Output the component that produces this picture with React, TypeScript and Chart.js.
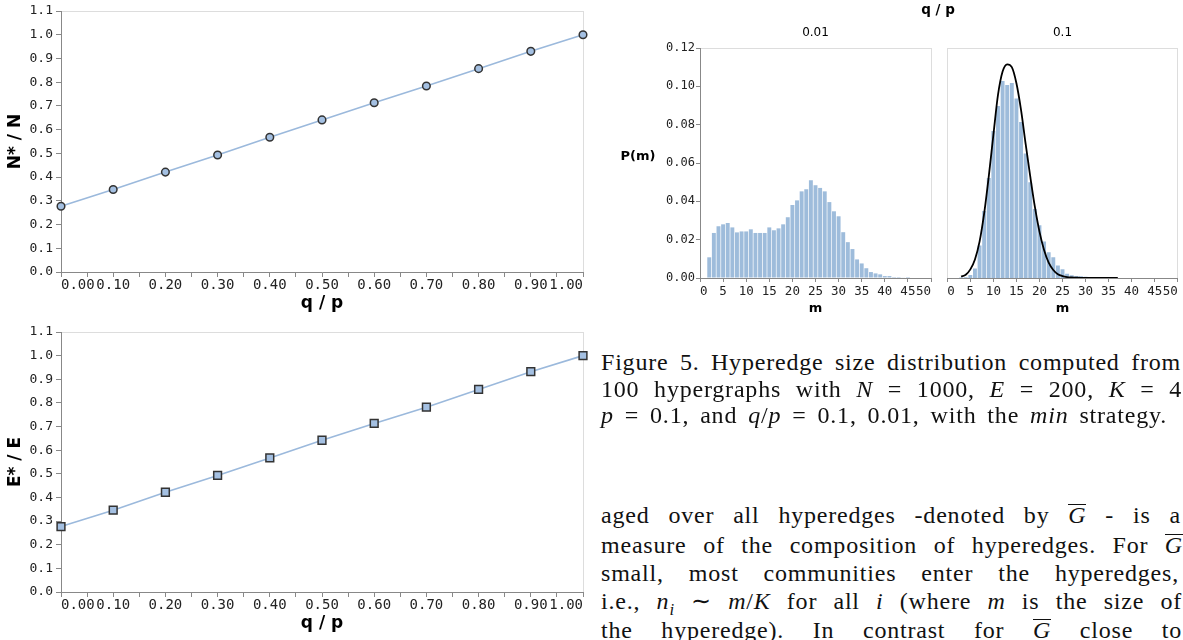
import React, { useEffect, useRef } from 'react';
import { Chart, registerables } from 'chart.js';

Chart.register(...registerables);

// ---------- data ----------
const qOverP = [0, 0.1, 0.2, 0.3, 0.4, 0.5, 0.6, 0.7, 0.8, 0.9, 1.0];
const nRatio = [0.277, 0.348, 0.421, 0.493, 0.568, 0.641, 0.713, 0.784, 0.857, 0.930, 1.0];
const eRatio = [0.277, 0.346, 0.422, 0.493, 0.567, 0.642, 0.713, 0.782, 0.857, 0.932, 1.0];

// q/p = 0.01 histogram
const mLow = [2, 3, 4, 5, 6, 7, 8, 9, 10, 11, 12, 13, 14, 15, 16, 17, 18, 19, 20, 21, 22, 23, 24, 25, 26, 27, 28, 29, 30, 31, 32, 33, 34, 35, 36, 37, 38, 39, 40, 41, 42, 43, 44, 45];
const pLow = [0.0108, 0.0235, 0.0270, 0.0280, 0.0287, 0.0264, 0.0238, 0.0243, 0.0243, 0.0254, 0.0235, 0.0235, 0.0235, 0.0264, 0.0249, 0.0259, 0.0280, 0.0317, 0.0381, 0.0405, 0.0452, 0.0463, 0.0510, 0.0484, 0.0470, 0.0452, 0.0396, 0.0348, 0.0322, 0.0239, 0.0187, 0.0151, 0.0097, 0.0076, 0.0051, 0.0031, 0.0024, 0.0019, 0.0010, 0.0010, 0.0005, 0.0005, 0.0002, 0.0005];

// q/p = 0.1 histogram
const mHigh = [3, 4, 5, 6, 7, 8, 9, 10, 11, 12, 13, 14, 15, 16, 17, 18, 19, 20, 21, 22, 23, 24, 25, 26, 27, 28, 29, 30, 31];
const pHigh = [0.0002, 0.0004, 0.0016, 0.0050, 0.0169, 0.0350, 0.0522, 0.0767, 0.0897, 0.1028, 0.1007, 0.1017, 0.0937, 0.0814, 0.0650, 0.0500, 0.0360, 0.0275, 0.0190, 0.0135, 0.0108, 0.0065, 0.0046, 0.0022, 0.0015, 0.0010, 0.0009, 0.0006, 0.0005];

// theoretical curve for q/p = 0.1
const mCurve = [3, 4, 5, 6, 7, 8, 9, 10, 11, 12, 13, 14, 15, 16, 17, 18, 19, 20, 21, 22, 23, 24, 25, 26, 27, 28, 29, 30, 31, 32, 33, 34, 35, 36, 37];
const pCurve = [0.0007, 0.0017, 0.0045, 0.0097, 0.0190, 0.0337, 0.0530, 0.0746, 0.0955, 0.1077, 0.1115, 0.1100, 0.1016, 0.0877, 0.0700, 0.0530, 0.0372, 0.0242, 0.0146, 0.0080, 0.0042, 0.0020, 0.0010, 0.0005, 0.0003, 0.0002, 0.0001, 0.0001, 0.0001, 0.0, 0.0, 0.0, 0.0, 0.0, 0.0];

const yTicksRatio = [0, 0.1, 0.2, 0.3, 0.4, 0.5, 0.6, 0.7, 0.8, 0.9, 1.0, 1.1];
const yTicksP = [0, 0.02, 0.04, 0.06, 0.08, 0.10, 0.12];
const xTicksM = [0, 5, 10, 15, 20, 25, 30, 35, 40, 45, 50];

// ---------- styles ----------
const BLUE_LINE = '#9bb9dc';
const BLUE_FILL = '#a4c0e2';
const BAR = '#9ebcdb';
const AXIS = '#888888';
const FRAME = '#dddddd';
const MONO = 'DejaVu Sans Mono';
const SANS = 'DejaVu Sans';

const framePlugin = {
  id: 'frame',
  beforeDraw(chart: any) {
    const { ctx, chartArea: a } = chart;
    ctx.save();
    ctx.strokeStyle = FRAME;
    ctx.lineWidth = 1;
    ctx.strokeRect(Math.round(a.left) + 0.5, Math.round(a.top) + 0.5, Math.round(a.right - a.left), Math.round(a.bottom - a.top));
    ctx.restore();
  },
};

function ratioConfig(values: number[], yTitle: string, pointStyle: string, radius: number) {
  return {
    type: 'line',
    data: {
      datasets: [
        {
          data: qOverP.map((x, i) => ({ x, y: values[i] })),
          borderColor: BLUE_LINE,
          borderWidth: 1.6,
          backgroundColor: BLUE_FILL,
          pointBackgroundColor: BLUE_FILL,
          pointBorderColor: '#333333',
          pointBorderWidth: 1.5,
          pointRadius: radius,
          pointStyle,
          tension: 0,
          clip: false,
        },
      ],
    },
    options: {
      animation: false,
      responsive: false,
      devicePixelRatio: 1,
      layout: { padding: { top: 11, right: 17, bottom: 0, left: 0 } },
      plugins: { legend: { display: false }, tooltip: { enabled: false } },
      scales: {
        x: {
          type: 'linear',
          min: 0,
          max: 1,
          offset: false,
          ticks: {
            stepSize: 0.05,
            autoSkip: false,
            maxRotation: 0,
            align: 'inner',
            padding: 0,
            color: '#222',
            font: { family: MONO, size: 14 },
            callback: (v: number) => {
              const k = Math.round(v * 100);
              return k % 10 === 0 ? (k / 100).toFixed(2) : '';
            },
          },
          grid: { drawOnChartArea: false, drawTicks: true, tickLength: 5, color: AXIS },
          border: { color: AXIS, width: 1 },
          title: {
            display: true,
            text: 'q / p',
            color: '#000',
            font: { family: SANS, size: 17, weight: 'bold' },
            padding: { top: 0, bottom: 6 },
          },
          afterFit: (s: any) => {
            s.height = 48;
          },
        },
        y: {
          type: 'linear',
          min: 0,
          max: 1.1,
          afterBuildTicks: (s: any) => {
            s.ticks = yTicksRatio.map((v) => ({ value: v }));
          },
          ticks: {
            padding: 3,
            color: '#222',
            font: { family: MONO, size: 13 },
            callback: (v: number) => v.toFixed(1),
          },
          grid: { drawOnChartArea: false, drawTicks: true, tickLength: 5, color: AXIS },
          border: { color: AXIS, width: 1 },
          title: {
            display: true,
            text: yTitle,
            color: '#000',
            font: { family: SANS, size: 17, weight: 'bold' },
            padding: { top: 5, bottom: 0 },
          },
          afterFit: (s: any) => {
            s.width = 61;
          },
        },
      },
    },
    plugins: [framePlugin],
  };
}

function histConfig(ms: number[], ps: number[], curveM: number[] | null, curveP: number[] | null, showY: boolean, padLeft: number, padRight: number) {
  const datasets: any[] = [];
  if (curveM && curveP) {
    datasets.push({
      type: 'line',
      data: curveM.map((x, i) => ({ x, y: curveP[i] })),
      borderColor: '#000000',
      borderWidth: 1.8,
      pointRadius: 0,
      cubicInterpolationMode: 'monotone',
      fill: false,
      order: 0,
    });
  }
  datasets.push({
    type: 'bar',
    data: ms.map((x, i) => ({ x, y: ps[i] })),
    backgroundColor: BAR,
    borderWidth: 0,
    barPercentage: 0.85,
    categoryPercentage: 1,
    order: 1,
  });
  return {
    type: 'bar',
    data: { datasets },
    options: {
      animation: false,
      responsive: false,
      devicePixelRatio: 1,
      layout: { padding: { top: 48, right: padRight, bottom: 0, left: padLeft } },
      plugins: { legend: { display: false }, tooltip: { enabled: false } },
      scales: {
        x: {
          type: 'linear',
          min: 0,
          max: 50,
          offset: false,
          afterBuildTicks: (s: any) => {
            s.ticks = xTicksM.map((v) => ({ value: v }));
          },
          ticks: {
            autoSkip: false,
            maxRotation: 0,
            align: 'inner',
            padding: 2,
            color: '#222',
            font: { family: MONO, size: 12.5 },
            callback: (v: number) => String(v),
          },
          grid: { drawOnChartArea: false, drawTicks: true, tickLength: 4, color: AXIS, offset: false },
          border: { color: AXIS, width: 1 },
          title: {
            display: true,
            text: 'm',
            color: '#000',
            font: { family: SANS, size: 13, weight: 'bold' },
            padding: { top: 0, bottom: 4 },
          },
          afterFit: (s: any) => {
            s.height = 42;
          },
        },
        y: {
          type: 'linear',
          display: showY,
          min: 0,
          max: 0.12,
          afterBuildTicks: (s: any) => {
            s.ticks = yTicksP.map((v) => ({ value: v }));
          },
          ticks: {
            padding: 1,
            color: '#222',
            font: { family: MONO, size: 12 },
            callback: (v: number) => v.toFixed(2),
          },
          grid: { drawOnChartArea: false, drawTicks: true, tickLength: 4, color: AXIS },
          border: { color: AXIS, width: 1 },
          afterFit: (s: any) => {
            s.width = showY ? 100 : 0;
          },
        },
      },
    },
    plugins: [framePlugin],
  };
}

function ChartCanvas({ config, left, top, width, height }: any) {
  const ref = useRef<HTMLCanvasElement | null>(null);
  useEffect(() => {
    const chart = new Chart(ref.current as HTMLCanvasElement, config() as any);
    return () => chart.destroy();
  }, []);
  return (
    <canvas
      ref={ref}
      width={width}
      height={height}
      style={{ position: 'absolute', left, top, width, height }}
    />
  );
}

function Label({ x, y, children, bold, size }: any) {
  return (
    <div
      style={{
        position: 'absolute',
        left: x,
        top: y,
        transform: 'translate(-50%, -50%)',
        whiteSpace: 'nowrap',
        lineHeight: 1,
        fontFamily: SANS,
        fontSize: size,
        fontWeight: bold ? 'bold' : 'normal',
        color: '#000',
      }}
    >
      {children}
    </div>
  );
}

const TEXT_FS = 24;
function TextLine({ baseline, width, children }: any) {
  return (
    <div
      style={{
        position: 'absolute',
        left: 601,
        top: baseline - 0.8375 * TEXT_FS,
        width,
        fontFamily: 'Liberation Serif',
        fontSize: TEXT_FS,
        lineHeight: TEXT_FS + 'px',
        height: TEXT_FS,
        textAlign: 'justify',
        textAlignLast: 'justify',
        letterSpacing: '0.8px',
        color: '#111',
      }}
    >
      {children}
    </div>
  );
}

const Gbar = () => (
  <span
    style={{
      display: 'inline-block',
      lineHeight: '0.86em',
      borderTop: '1.3px solid #111',
    }}
  >
    <i>G</i>
  </span>
);

export default function App() {
  return (
    <div
      style={{
        position: 'absolute',
        left: 0,
        top: 0,
        width: 1183,
        height: 640,
        overflow: 'hidden',
        background: '#fff',
      }}
    >
      <ChartCanvas left={0} top={0} width={600} height={320} config={() => ratioConfig(nRatio, 'N* / N', 'circle', 3.8)} />
      <ChartCanvas left={0} top={321} width={600} height={319} config={() => ratioConfig(eRatio, 'E* / E', 'rect', 5.5)} />
      <ChartCanvas left={600} top={0} width={340} height={320} config={() => histConfig(mLow, pLow, null, null, true, 0, 9)} />
      <ChartCanvas left={940} top={0} width={243} height={320} config={() => histConfig(mHigh, pHigh, mCurve, pCurve, false, 7.3, 5.3)} />

      <Label x={938} y={10} bold size={13.5}>q / p</Label>
      <Label x={815.5} y={32} size={12}>0.01</Label>
      <Label x={1062.5} y={32} size={12}>0.1</Label>
      <Label x={638} y={155} bold size={13}>P(m)</Label>

      <TextLine baseline={370} width={580}>Figure 5. Hyperedge size distribution computed from</TextLine>
      <TextLine baseline={397} width={581}>
        100 hypergraphs with <i>N</i> = 1000, <i>E</i> = 200, <i>K</i> = 4
      </TextLine>
      <TextLine baseline={423} width={566}>
        <i>p</i> = 0.1, and <i>q</i>/<i>p</i> = 0.1, 0.01, with the <i>min</i> strategy.
      </TextLine>

      <TextLine baseline={523} width={580}>
        aged over all hyperedges -denoted by <Gbar /> - is a
      </TextLine>
      <TextLine baseline={553} width={582}>
        measure of the composition of hyperedges. For <Gbar />
      </TextLine>
      <TextLine baseline={581} width={578}>small, most communities enter the hyperedges,</TextLine>
      <TextLine baseline={609} width={581}>
        i.e., <i>n</i>
        <sub style={{ fontSize: '0.7em', lineHeight: 0 }}>
          <i>i</i>
        </sub>{' '}
        ∼ <i>m</i>/<i>K</i> for all <i>i</i> (where <i>m</i> is the size of
      </TextLine>
      <TextLine baseline={638} width={581}>
        the hyperedge). In contrast for <Gbar /> close to
      </TextLine>
    </div>
  );
}
